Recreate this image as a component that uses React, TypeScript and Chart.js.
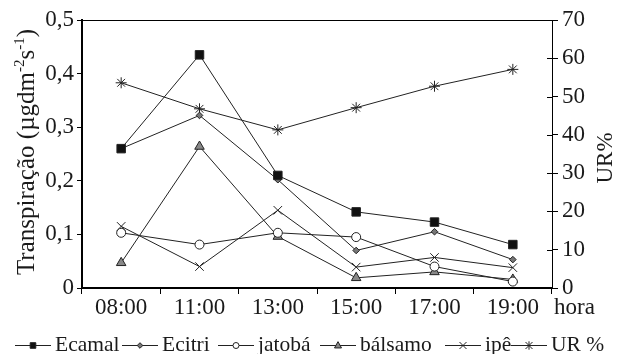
import React, { useEffect, useRef } from 'react';
import { Chart, registerables } from 'chart.js';

Chart.register(...registerables);

const categories = ['08:00', '11:00', '13:00', '15:00', '17:00', '19:00'];
const ecamal = [0.26, 0.435, 0.21, 0.142, 0.123, 0.081];
const ecitri = [0.26, 0.322, 0.202, 0.07, 0.105, 0.053];
const jatoba = [0.103, 0.081, 0.103, 0.095, 0.04, 0.012];
const balsamo = [0.047, 0.264, 0.096, 0.019, 0.03, 0.016];
const ipe = [0.115, 0.04, 0.145, 0.039, 0.057, 0.038];
const ur = [53.6, 46.8, 41.3, 47.1, 52.7, 57.1];

const leftTicksMax = 0.5;
const rightTicksMax = 70;

const FONT = "'Liberation Serif', 'Times New Roman', serif";
const INK = '#1a1a1a';

function drawMarker(ctx: CanvasRenderingContext2D, style: string, x: number, y: number, r: number, fill: string) {
  ctx.save();
  ctx.strokeStyle = '#222';
  ctx.fillStyle = fill;
  ctx.lineWidth = 1;
  ctx.beginPath();
  if (style === 'rect') {
    ctx.rect(x - r, y - r, 2 * r, 2 * r);
    ctx.fill();
    ctx.stroke();
  } else if (style === 'rectRot') {
    ctx.moveTo(x - r, y);
    ctx.lineTo(x, y - r);
    ctx.lineTo(x + r, y);
    ctx.lineTo(x, y + r);
    ctx.closePath();
    ctx.fill();
    ctx.stroke();
  } else if (style === 'circle') {
    ctx.arc(x, y, r, 0, Math.PI * 2);
    ctx.fill();
    ctx.stroke();
  } else if (style === 'triangle') {
    ctx.moveTo(x, y - r * 1.1);
    ctx.lineTo(x + r, y + r * 0.7);
    ctx.lineTo(x - r, y + r * 0.7);
    ctx.closePath();
    ctx.fill();
    ctx.stroke();
  } else if (style === 'crossRot') {
    ctx.moveTo(x - r, y - r);
    ctx.lineTo(x + r, y + r);
    ctx.moveTo(x + r, y - r);
    ctx.lineTo(x - r, y + r);
    ctx.stroke();
  } else if (style === 'star') {
    ctx.moveTo(x - r, y - r);
    ctx.lineTo(x + r, y + r);
    ctx.moveTo(x + r, y - r);
    ctx.lineTo(x - r, y + r);
    ctx.moveTo(x, y - r * 1.2);
    ctx.lineTo(x, y + r * 1.2);
    ctx.stroke();
  }
  ctx.restore();
}

export default function App() {
  const ref = useRef<HTMLCanvasElement>(null);

  useEffect(() => {
    document.body.style.margin = '0';
    const canvas = ref.current!;

    const mk = (label: string, data: number[], style: string, radius: number, bg: string, order = 1, axis = 'y') => ({
      label,
      data,
      yAxisID: axis,
      borderColor: '#222',
      borderWidth: 1,
      pointStyle: style,
      pointRadius: radius,
      pointBackgroundColor: bg,
      pointBorderColor: '#222',
      pointBorderWidth: 1,
      fill: false,
      tension: 0,
      order,
    });

    const datasets = [
      mk('Ecamal', ecamal, 'rect', 6, '#111', 0),
      mk('Ecitri', ecitri, 'rectRot', 3.3, '#777', 1),
      mk('jatobá', jatoba, 'circle', 4.5, '#fff', 1),
      mk('bálsamo', balsamo, 'triangle', 5.5, '#888', 1),
      mk('ipê', ipe, 'crossRot', 6, '#222', 1),
      mk('UR %', ur, 'star', 5.5, '#222', 1, 'y1'),
    ];

    const legendStyles = [
      { style: 'rect', r: 2.8, fill: '#111' },
      { style: 'rectRot', r: 2.8, fill: '#777' },
      { style: 'circle', r: 3, fill: '#fff' },
      { style: 'triangle', r: 3.5, fill: '#888' },
      { style: 'crossRot', r: 3.5, fill: '#222' },
      { style: 'star', r: 3.5, fill: '#222' },
    ];
    const legendX = [15, 122, 218, 320, 445, 511];

    const extras = {
      id: 'extras',
      afterDraw(chart: any) {
        const ctx: CanvasRenderingContext2D = chart.ctx;
        const area = chart.chartArea;
        ctx.save();
        // inner tick marks on right axis
        const y1 = chart.scales.y1;
        ctx.strokeStyle = '#000';
        ctx.lineWidth = 1;
        y1.ticks.forEach((_t: any, i: number) => {
          const py = Math.round(y1.getPixelForTick(i)) + 0.5;
          ctx.beginPath();
          ctx.moveTo(area.right - 5, py);
          ctx.lineTo(area.right, py);
          ctx.stroke();
        });

        ctx.fillStyle = INK;
        // "hora"
        ctx.font = `23px ${FONT}`;
        ctx.textAlign = 'left';
        ctx.textBaseline = 'middle';
        ctx.fillText('hora', 554, 308);

        // right title
        ctx.save();
        ctx.translate(606, 158);
        ctx.rotate(-Math.PI / 2);
        ctx.textAlign = 'center';
        ctx.textBaseline = 'middle';
        ctx.font = `23px ${FONT}`;
        ctx.fillText('UR%', 0, 0);
        ctx.restore();

        // left title with superscripts
        const parts: [string, boolean][] = [
          ['Transpiração (µgdm', false],
          ['-2', true],
          ['s', false],
          ['-1', true],
          [')', false],
        ];
        const fs = 25;
        const normal = `${fs}px ${FONT}`;
        const sup = `${Math.round(fs * 0.6)}px ${FONT}`;
        let total = 0;
        parts.forEach(([t, s]) => {
          ctx.font = s ? sup : normal;
          total += ctx.measureText(t).width;
        });
        ctx.save();
        ctx.translate(34, 152);
        ctx.rotate(-Math.PI / 2);
        ctx.textAlign = 'left';
        ctx.textBaseline = 'alphabetic';
        let px = -total / 2;
        parts.forEach(([t, s]) => {
          ctx.font = s ? sup : normal;
          ctx.fillText(t, px, s ? -fs * 0.42 : 0);
          px += ctx.measureText(t).width;
        });
        ctx.restore();

        // legend
        ctx.font = `21.5px ${FONT}`;
        ctx.textBaseline = 'middle';
        ctx.textAlign = 'left';
        const ly = 345;
        chart.data.datasets.forEach((ds: any, i: number) => {
          const lx = legendX[i];
          ctx.strokeStyle = '#222';
          ctx.lineWidth = 1;
          ctx.beginPath();
          ctx.moveTo(lx, ly + 0.5);
          ctx.lineTo(lx + 36, ly + 0.5);
          ctx.stroke();
          const st = legendStyles[i];
          drawMarker(ctx, st.style, lx + 18, ly + 0.5, st.r, st.fill);
          ctx.fillStyle = INK;
          ctx.fillText(ds.label, lx + 40, ly);
        });
        ctx.restore();
      },
    };

    const chart = new Chart(canvas, {
      type: 'line',
      data: { labels: categories, datasets: datasets as any },
      options: {
        animation: false,
        responsive: false,
        maintainAspectRatio: false,
        layout: { padding: { top: 20, left: 0, right: 0, bottom: 0 } },
        plugins: { legend: { display: false }, tooltip: { enabled: false } },
        font: { family: FONT },
        scales: {
          x: {
            type: 'category',
            offset: true,
            grid: { offset: true, drawOnChartArea: false, drawTicks: true, tickLength: 6, tickColor: '#000' },
            border: { display: true, color: '#000', width: 2 },
            ticks: { color: INK, font: { family: FONT, size: 23 }, padding: 0, maxRotation: 0, autoSkip: false },
            afterFit: (s: any) => { s.height = 66; },
          },
          y: {
            position: 'left',
            min: 0,
            max: leftTicksMax,
            ticks: {
              stepSize: 0.1,
              color: INK,
              font: { family: FONT, size: 23 },
              padding: 3,
              callback: (v: any) => (Number(v) === 0 ? '0' : Number(v).toFixed(1).replace('.', ',')),
            },
            grid: {
              color: (c: any) => (c.tick && Math.abs(c.tick.value - leftTicksMax) < 1e-6 ? '#000' : 'rgba(0,0,0,0)'),
              tickColor: '#000',
              tickLength: 5,
              lineWidth: 1,
            },
            border: { display: true, color: '#000', width: 2 },
            afterFit: (s: any) => { s.width = 82; },
          },
          y1: {
            position: 'right',
            min: 0,
            max: rightTicksMax,
            ticks: { stepSize: 10, color: INK, font: { family: FONT, size: 23 }, padding: 4 },
            grid: { drawOnChartArea: false, tickColor: '#000', tickLength: 6 },
            border: { display: true, color: '#000', width: 1 },
            afterFit: (s: any) => { s.width = 67; },
          },
        },
      } as any,
      plugins: [extras],
    });

    return () => chart.destroy();
  }, []);

  return (
    <div style={{ width: 619, height: 354, background: '#fff' }}>
      <canvas ref={ref} width={619} height={354} style={{ width: 619, height: 354, display: 'block' }} />
    </div>
  );
}
